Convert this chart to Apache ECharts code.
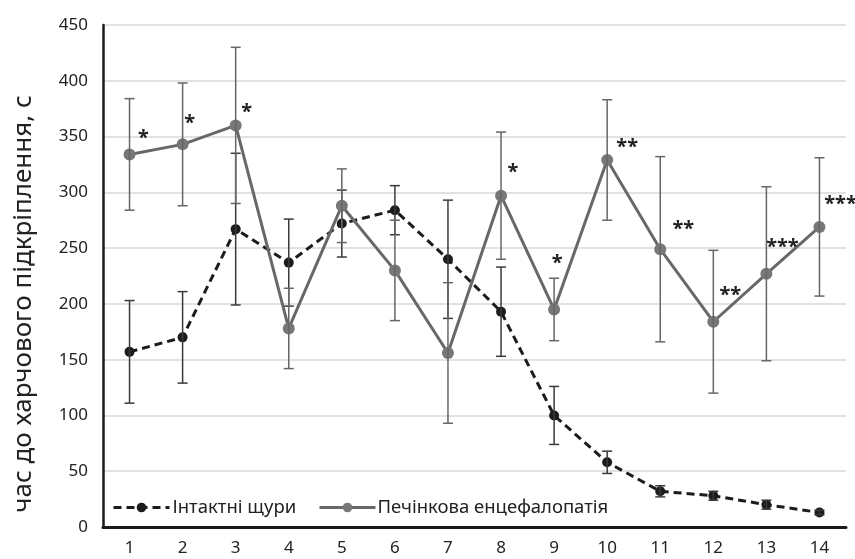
<!DOCTYPE html>
<html>
<head>
<meta charset="utf-8">
<script src="https://cdn.jsdelivr.net/npm/echarts@6/dist/echarts.min.js"></script>
<style>html,body{margin:0;padding:0;background:#fff;}#c{width:855px;height:559px;}</style>
</head>
<body>
<div id="c"></div>
<script>
const categories = ['1','2','3','4','5','6','7','8','9','10','11','12','13','14'];
const intactMean = [157, 170, 267, 237, 272, 284, 240, 193, 100, 58, 32, 28, 20, 13];
const intactErr  = [46, 41, 68, 39, 30, 22, 53, 40, 26, 10, 5, 4, 4, 2];
const liverMean  = [334, 343, 360, 178, 288, 230, 156, 297, 195, 329, 249, 184, 227, 269];
const liverErr   = [50, 55, 70, 36, 33, 45, 63, 57, 28, 54, 83, 64, 78, 62];
const stars      = ['*','*','*','','','','','*','*','**','**','**','***','***'];
const yTicks = [0, 50, 100, 150, 200, 250, 300, 350, 400, 450];
const seriesNames = ['Інтактні щури', 'Печінкова енцефалопатія'];
const yTitle = 'час до харчового підкріплення, с';

const FONT = 'Noto Sans';
// star label offsets (px) relative to the marker centre
const starOffsets = [[14,-16],[7,-21],[11,-13],[0,0],[0,0],[0,0],[0,0],[12,-23],[3,-46],[20,-13],[23,-20],[17,-26],[16,-26],[21,-23]];

function errData(mean, err) {
  return mean.map((m, i) => [i, m - err[i], m + err[i]]);
}
function errRender(color) {
  return function (params, api) {
    const x = api.value(0);
    const lo = api.coord([x, api.value(1)]);
    const hi = api.coord([x, api.value(2)]);
    const hw = 5;
    const st = { stroke: color, lineWidth: 1.5 };
    return {
      type: 'group',
      children: [
        { type: 'line', shape: { x1: lo[0], y1: lo[1], x2: hi[0], y2: hi[1] }, style: st },
        { type: 'line', shape: { x1: lo[0] - hw, y1: lo[1], x2: lo[0] + hw, y2: lo[1] }, style: st },
        { type: 'line', shape: { x1: hi[0] - hw, y1: hi[1], x2: hi[0] + hw, y2: hi[1] }, style: st }
      ]
    };
  };
}

const chart = echarts.init(document.getElementById('c'), null, { renderer: 'canvas' });
chart.setOption({
  animation: false,
  backgroundColor: '#fff',
  textStyle: { fontFamily: FONT },
  grid: { left: 103, right: 9, top: 25, bottom: 32, containLabel: false },
  xAxis: {
    type: 'category',
    data: categories,
    boundaryGap: true,
    axisLine: { lineStyle: { color: '#1a1a1a', width: 3 } },
    axisTick: { show: false },
    axisLabel: { color: '#222', fontSize: 17, margin: 13, fontFamily: FONT },
    splitLine: { show: false }
  },
  yAxis: {
    type: 'value',
    min: yTicks[0],
    max: yTicks[yTicks.length - 1],
    interval: yTicks[1] - yTicks[0],
    axisLine: { show: true, lineStyle: { color: '#1a1a1a', width: 2.5 } },
    axisTick: { show: false },
    axisLabel: { color: '#222', fontSize: 17, margin: 15, fontFamily: FONT },
    splitLine: { lineStyle: { color: '#d9d9d9', width: 1.5 } }
  },
  legend: [
    {
      data: [seriesNames[0]],
      left: 107, top: 493,
      itemWidth: 56, itemHeight: 12, itemGap: 4,
      lineStyle: { width: 3 },
      textStyle: { fontSize: 18.5, color: '#222', fontFamily: FONT, padding: [0, 0, 0, -2] }
    },
    {
      data: [seriesNames[1]],
      left: 313, top: 493,
      itemWidth: 56, itemHeight: 12, itemGap: 4,
      lineStyle: { width: 3 },
      textStyle: { fontSize: 18.5, color: '#222', fontFamily: FONT, padding: [0, 0, 0, -3] }
    }
  ],
  graphic: [
    {
      type: 'text',
      x: 24, y: 304,
      rotation: Math.PI / 2,
      style: {
        text: yTitle,
        fontSize: 26,
        fontFamily: FONT,
        fill: '#222',
        align: 'center',
        verticalAlign: 'middle'
      }
    }
  ],
  series: [
    {
      name: seriesNames[0],
      type: 'line',
      data: intactMean,
      symbol: 'circle',
      symbolSize: 10,
      itemStyle: { color: '#1c1c1c' },
      lineStyle: { color: '#1c1c1c', width: 3, type: [8, 5] },
      z: 3
    },
    {
      name: 'intactErr',
      type: 'custom',
      data: errData(intactMean, intactErr),
      renderItem: errRender('#3a3a3a'),
      encode: { x: 0, y: [1, 2] },
      z: 4,
      silent: true
    },
    {
      name: seriesNames[1],
      type: 'line',
      data: liverMean.map((v, i) => ({
        value: v,
        label: {
          show: stars[i] !== '',
          formatter: stars[i],
          position: 'inside',
          offset: starOffsets[i],
          align: 'center',
          verticalAlign: 'middle',
          fontSize: 20,
          fontWeight: 'bold',
          color: '#222',
          fontFamily: FONT
        }
      })),
      symbol: 'circle',
      symbolSize: 12,
      itemStyle: { color: '#777' },
      lineStyle: { color: '#686868', width: 3 },
      z: 5
    },
    {
      name: 'liverErr',
      type: 'custom',
      data: errData(liverMean, liverErr),
      renderItem: errRender('#666'),
      encode: { x: 0, y: [1, 2] },
      z: 6,
      silent: true
    }
  ]
});
</script>
</body>
</html>
